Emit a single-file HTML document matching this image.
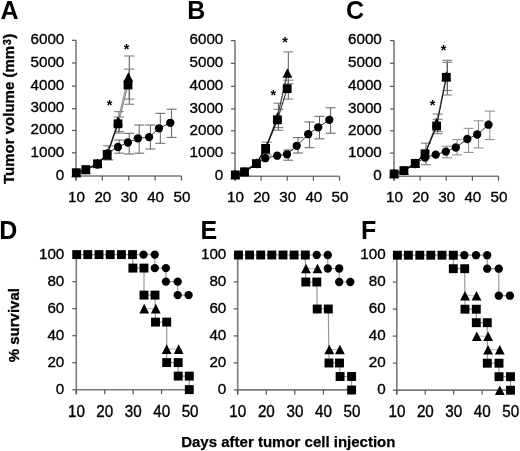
<!DOCTYPE html><html><head><meta charset="utf-8"><style>html,body{margin:0;padding:0;background:#fff;}svg{display:block;will-change:transform;}</style></head><body><svg width="520" height="451" viewBox="0 0 520 451" font-family='"Liberation Sans", sans-serif'>
<rect width="520" height="451" fill="#fff"/>
<text x="0.60" y="19.00" font-size="25" text-anchor="start" font-weight="bold" >A</text>
<text x="187.20" y="19.00" font-size="25" text-anchor="start" font-weight="bold" >B</text>
<text x="346.00" y="19.00" font-size="25" text-anchor="start" font-weight="bold" >C</text>
<text x="-0.80" y="239.20" font-size="25" text-anchor="start" font-weight="bold" >D</text>
<text x="200.50" y="238.90" font-size="25" text-anchor="start" font-weight="bold" >E</text>
<text x="361.00" y="238.90" font-size="25" text-anchor="start" font-weight="bold" >F</text>
<text transform="translate(14.1,184) rotate(-90)" font-size="15" font-weight="bold" stroke="#000" stroke-width="0.3">Tumor volume <tspan dx="0">(mm</tspan><tspan dx="1.0" dy="-3.6" font-size="10.5">3</tspan><tspan dx="0.3" dy="3.6">)</tspan></text>
<text transform="translate(18.9,362.3) rotate(-90)" font-size="15" font-weight="bold" stroke="#000" stroke-width="0.3">% survival</text>
<text x="181.20" y="446.60" stroke="#000" stroke-width="0.25" font-size="15" text-anchor="start" font-weight="bold" >Days after tumor cell injection</text>
<line x1="76.00" y1="40.30" x2="76.00" y2="180.50" stroke="#7a7a7a" stroke-width="1.6"/><line x1="76.00" y1="176.00" x2="181.50" y2="176.00" stroke="#7a7a7a" stroke-width="1.6"/><line x1="72.00" y1="176.00" x2="76.00" y2="176.00" stroke="#555" stroke-width="1.2"/><text x="64.30" y="179.70" stroke="#000" stroke-width="0.35" font-size="15.2" text-anchor="end" font-weight="normal" >0</text><line x1="72.00" y1="152.80" x2="76.00" y2="152.80" stroke="#555" stroke-width="1.2"/><text x="64.30" y="156.50" stroke="#000" stroke-width="0.35" font-size="15.2" text-anchor="end" font-weight="normal" >1000</text><line x1="72.00" y1="130.50" x2="76.00" y2="130.50" stroke="#555" stroke-width="1.2"/><text x="64.30" y="134.20" stroke="#000" stroke-width="0.35" font-size="15.2" text-anchor="end" font-weight="normal" >2000</text><line x1="72.00" y1="108.70" x2="76.00" y2="108.70" stroke="#555" stroke-width="1.2"/><text x="64.30" y="112.40" stroke="#000" stroke-width="0.35" font-size="15.2" text-anchor="end" font-weight="normal" >3000</text><line x1="72.00" y1="86.10" x2="76.00" y2="86.10" stroke="#555" stroke-width="1.2"/><text x="64.30" y="89.80" stroke="#000" stroke-width="0.35" font-size="15.2" text-anchor="end" font-weight="normal" >4000</text><line x1="72.00" y1="63.00" x2="76.00" y2="63.00" stroke="#555" stroke-width="1.2"/><text x="64.30" y="66.70" stroke="#000" stroke-width="0.35" font-size="15.2" text-anchor="end" font-weight="normal" >5000</text><line x1="72.00" y1="40.30" x2="76.00" y2="40.30" stroke="#555" stroke-width="1.2"/><text x="64.30" y="44.00" stroke="#000" stroke-width="0.35" font-size="15.2" text-anchor="end" font-weight="normal" >6000</text><line x1="76.00" y1="176.00" x2="76.00" y2="180.50" stroke="#555" stroke-width="1.2"/><text x="76.50" y="202.30" stroke="#000" stroke-width="0.35" font-size="15.2" text-anchor="middle" font-weight="normal" >10</text><line x1="102.38" y1="176.00" x2="102.38" y2="180.50" stroke="#555" stroke-width="1.2"/><text x="102.88" y="202.30" stroke="#000" stroke-width="0.35" font-size="15.2" text-anchor="middle" font-weight="normal" >20</text><line x1="128.75" y1="176.00" x2="128.75" y2="180.50" stroke="#555" stroke-width="1.2"/><text x="129.25" y="202.30" stroke="#000" stroke-width="0.35" font-size="15.2" text-anchor="middle" font-weight="normal" >30</text><line x1="155.12" y1="176.00" x2="155.12" y2="180.50" stroke="#555" stroke-width="1.2"/><text x="155.62" y="202.30" stroke="#000" stroke-width="0.35" font-size="15.2" text-anchor="middle" font-weight="normal" >40</text><line x1="181.50" y1="176.00" x2="181.50" y2="180.50" stroke="#555" stroke-width="1.2"/><text x="182.00" y="202.30" stroke="#000" stroke-width="0.35" font-size="15.2" text-anchor="middle" font-weight="normal" >50</text>
<line x1="235.00" y1="40.60" x2="235.00" y2="180.80" stroke="#7a7a7a" stroke-width="1.6"/><line x1="235.00" y1="176.30" x2="339.50" y2="176.30" stroke="#7a7a7a" stroke-width="1.6"/><line x1="231.00" y1="176.30" x2="235.00" y2="176.30" stroke="#555" stroke-width="1.2"/><text x="223.30" y="180.00" stroke="#000" stroke-width="0.35" font-size="15.2" text-anchor="end" font-weight="normal" >0</text><line x1="231.00" y1="153.10" x2="235.00" y2="153.10" stroke="#555" stroke-width="1.2"/><text x="223.30" y="156.80" stroke="#000" stroke-width="0.35" font-size="15.2" text-anchor="end" font-weight="normal" >1000</text><line x1="231.00" y1="130.80" x2="235.00" y2="130.80" stroke="#555" stroke-width="1.2"/><text x="223.30" y="134.50" stroke="#000" stroke-width="0.35" font-size="15.2" text-anchor="end" font-weight="normal" >2000</text><line x1="231.00" y1="109.00" x2="235.00" y2="109.00" stroke="#555" stroke-width="1.2"/><text x="223.30" y="112.70" stroke="#000" stroke-width="0.35" font-size="15.2" text-anchor="end" font-weight="normal" >3000</text><line x1="231.00" y1="86.40" x2="235.00" y2="86.40" stroke="#555" stroke-width="1.2"/><text x="223.30" y="90.10" stroke="#000" stroke-width="0.35" font-size="15.2" text-anchor="end" font-weight="normal" >4000</text><line x1="231.00" y1="63.30" x2="235.00" y2="63.30" stroke="#555" stroke-width="1.2"/><text x="223.30" y="67.00" stroke="#000" stroke-width="0.35" font-size="15.2" text-anchor="end" font-weight="normal" >5000</text><line x1="231.00" y1="40.60" x2="235.00" y2="40.60" stroke="#555" stroke-width="1.2"/><text x="223.30" y="44.30" stroke="#000" stroke-width="0.35" font-size="15.2" text-anchor="end" font-weight="normal" >6000</text><line x1="235.00" y1="176.30" x2="235.00" y2="180.80" stroke="#555" stroke-width="1.2"/><text x="235.50" y="202.30" stroke="#000" stroke-width="0.35" font-size="15.2" text-anchor="middle" font-weight="normal" >10</text><line x1="261.12" y1="176.30" x2="261.12" y2="180.80" stroke="#555" stroke-width="1.2"/><text x="261.62" y="202.30" stroke="#000" stroke-width="0.35" font-size="15.2" text-anchor="middle" font-weight="normal" >20</text><line x1="287.25" y1="176.30" x2="287.25" y2="180.80" stroke="#555" stroke-width="1.2"/><text x="287.75" y="202.30" stroke="#000" stroke-width="0.35" font-size="15.2" text-anchor="middle" font-weight="normal" >30</text><line x1="313.38" y1="176.30" x2="313.38" y2="180.80" stroke="#555" stroke-width="1.2"/><text x="313.88" y="202.30" stroke="#000" stroke-width="0.35" font-size="15.2" text-anchor="middle" font-weight="normal" >40</text><line x1="339.50" y1="176.30" x2="339.50" y2="180.80" stroke="#555" stroke-width="1.2"/><text x="340.00" y="202.30" stroke="#000" stroke-width="0.35" font-size="15.2" text-anchor="middle" font-weight="normal" >50</text>
<line x1="394.00" y1="40.60" x2="394.00" y2="180.80" stroke="#7a7a7a" stroke-width="1.6"/><line x1="394.00" y1="176.30" x2="498.50" y2="176.30" stroke="#7a7a7a" stroke-width="1.6"/><line x1="390.00" y1="176.30" x2="394.00" y2="176.30" stroke="#555" stroke-width="1.2"/><text x="381.80" y="180.00" stroke="#000" stroke-width="0.35" font-size="15.2" text-anchor="end" font-weight="normal" >0</text><line x1="390.00" y1="153.10" x2="394.00" y2="153.10" stroke="#555" stroke-width="1.2"/><text x="381.80" y="156.80" stroke="#000" stroke-width="0.35" font-size="15.2" text-anchor="end" font-weight="normal" >1000</text><line x1="390.00" y1="130.80" x2="394.00" y2="130.80" stroke="#555" stroke-width="1.2"/><text x="381.80" y="134.50" stroke="#000" stroke-width="0.35" font-size="15.2" text-anchor="end" font-weight="normal" >2000</text><line x1="390.00" y1="109.00" x2="394.00" y2="109.00" stroke="#555" stroke-width="1.2"/><text x="381.80" y="112.70" stroke="#000" stroke-width="0.35" font-size="15.2" text-anchor="end" font-weight="normal" >3000</text><line x1="390.00" y1="86.40" x2="394.00" y2="86.40" stroke="#555" stroke-width="1.2"/><text x="381.80" y="90.10" stroke="#000" stroke-width="0.35" font-size="15.2" text-anchor="end" font-weight="normal" >4000</text><line x1="390.00" y1="63.30" x2="394.00" y2="63.30" stroke="#555" stroke-width="1.2"/><text x="381.80" y="67.00" stroke="#000" stroke-width="0.35" font-size="15.2" text-anchor="end" font-weight="normal" >5000</text><line x1="390.00" y1="40.60" x2="394.00" y2="40.60" stroke="#555" stroke-width="1.2"/><text x="381.80" y="44.30" stroke="#000" stroke-width="0.35" font-size="15.2" text-anchor="end" font-weight="normal" >6000</text><line x1="394.00" y1="176.30" x2="394.00" y2="180.80" stroke="#555" stroke-width="1.2"/><text x="394.50" y="202.30" stroke="#000" stroke-width="0.35" font-size="15.2" text-anchor="middle" font-weight="normal" >10</text><line x1="420.12" y1="176.30" x2="420.12" y2="180.80" stroke="#555" stroke-width="1.2"/><text x="420.62" y="202.30" stroke="#000" stroke-width="0.35" font-size="15.2" text-anchor="middle" font-weight="normal" >20</text><line x1="446.25" y1="176.30" x2="446.25" y2="180.80" stroke="#555" stroke-width="1.2"/><text x="446.75" y="202.30" stroke="#000" stroke-width="0.35" font-size="15.2" text-anchor="middle" font-weight="normal" >30</text><line x1="472.38" y1="176.30" x2="472.38" y2="180.80" stroke="#555" stroke-width="1.2"/><text x="472.88" y="202.30" stroke="#000" stroke-width="0.35" font-size="15.2" text-anchor="middle" font-weight="normal" >40</text><line x1="498.50" y1="176.30" x2="498.50" y2="180.80" stroke="#555" stroke-width="1.2"/><text x="499.00" y="202.30" stroke="#000" stroke-width="0.35" font-size="15.2" text-anchor="middle" font-weight="normal" >50</text>
<line x1="76.30" y1="254.70" x2="76.30" y2="394.20" stroke="#7a7a7a" stroke-width="1.6"/><line x1="76.30" y1="389.70" x2="190.00" y2="389.70" stroke="#7a7a7a" stroke-width="1.6"/><line x1="72.30" y1="389.70" x2="76.30" y2="389.70" stroke="#555" stroke-width="1.2"/><text x="64.30" y="394.00" stroke="#000" stroke-width="0.35" font-size="15.2" text-anchor="end" font-weight="normal" >0</text><line x1="72.30" y1="362.70" x2="76.30" y2="362.70" stroke="#555" stroke-width="1.2"/><text x="64.30" y="367.00" stroke="#000" stroke-width="0.35" font-size="15.2" text-anchor="end" font-weight="normal" >20</text><line x1="72.30" y1="335.70" x2="76.30" y2="335.70" stroke="#555" stroke-width="1.2"/><text x="64.30" y="340.00" stroke="#000" stroke-width="0.35" font-size="15.2" text-anchor="end" font-weight="normal" >40</text><line x1="72.30" y1="308.70" x2="76.30" y2="308.70" stroke="#555" stroke-width="1.2"/><text x="64.30" y="313.00" stroke="#000" stroke-width="0.35" font-size="15.2" text-anchor="end" font-weight="normal" >60</text><line x1="72.30" y1="281.70" x2="76.30" y2="281.70" stroke="#555" stroke-width="1.2"/><text x="64.30" y="286.00" stroke="#000" stroke-width="0.35" font-size="15.2" text-anchor="end" font-weight="normal" >80</text><line x1="72.30" y1="254.70" x2="76.30" y2="254.70" stroke="#555" stroke-width="1.2"/><text x="64.30" y="259.00" stroke="#000" stroke-width="0.35" font-size="15.2" text-anchor="end" font-weight="normal" >100</text><line x1="76.30" y1="389.70" x2="76.30" y2="394.20" stroke="#555" stroke-width="1.2"/><text transform="translate(76.40,416.60) scale(1,1.07)" stroke="#000" stroke-width="0.35" font-size="15.2" text-anchor="middle" font-weight="normal" >10</text><line x1="104.72" y1="389.70" x2="104.72" y2="394.20" stroke="#555" stroke-width="1.2"/><text transform="translate(104.82,416.60) scale(1,1.07)" stroke="#000" stroke-width="0.35" font-size="15.2" text-anchor="middle" font-weight="normal" >20</text><line x1="133.15" y1="389.70" x2="133.15" y2="394.20" stroke="#555" stroke-width="1.2"/><text transform="translate(133.25,416.60) scale(1,1.07)" stroke="#000" stroke-width="0.35" font-size="15.2" text-anchor="middle" font-weight="normal" >30</text><line x1="161.57" y1="389.70" x2="161.57" y2="394.20" stroke="#555" stroke-width="1.2"/><text transform="translate(161.67,416.60) scale(1,1.07)" stroke="#000" stroke-width="0.35" font-size="15.2" text-anchor="middle" font-weight="normal" >40</text><line x1="190.00" y1="389.70" x2="190.00" y2="394.20" stroke="#555" stroke-width="1.2"/><text transform="translate(190.10,416.60) scale(1,1.07)" stroke="#000" stroke-width="0.35" font-size="15.2" text-anchor="middle" font-weight="normal" >50</text>
<line x1="237.70" y1="254.90" x2="237.70" y2="394.40" stroke="#7a7a7a" stroke-width="1.6"/><line x1="237.70" y1="389.90" x2="351.90" y2="389.90" stroke="#7a7a7a" stroke-width="1.6"/><line x1="233.70" y1="389.90" x2="237.70" y2="389.90" stroke="#555" stroke-width="1.2"/><text x="226.30" y="394.20" stroke="#000" stroke-width="0.35" font-size="15.2" text-anchor="end" font-weight="normal" >0</text><line x1="233.70" y1="362.90" x2="237.70" y2="362.90" stroke="#555" stroke-width="1.2"/><text x="226.30" y="367.20" stroke="#000" stroke-width="0.35" font-size="15.2" text-anchor="end" font-weight="normal" >20</text><line x1="233.70" y1="335.90" x2="237.70" y2="335.90" stroke="#555" stroke-width="1.2"/><text x="226.30" y="340.20" stroke="#000" stroke-width="0.35" font-size="15.2" text-anchor="end" font-weight="normal" >40</text><line x1="233.70" y1="308.90" x2="237.70" y2="308.90" stroke="#555" stroke-width="1.2"/><text x="226.30" y="313.20" stroke="#000" stroke-width="0.35" font-size="15.2" text-anchor="end" font-weight="normal" >60</text><line x1="233.70" y1="281.90" x2="237.70" y2="281.90" stroke="#555" stroke-width="1.2"/><text x="226.30" y="286.20" stroke="#000" stroke-width="0.35" font-size="15.2" text-anchor="end" font-weight="normal" >80</text><line x1="233.70" y1="254.90" x2="237.70" y2="254.90" stroke="#555" stroke-width="1.2"/><text x="226.30" y="259.20" stroke="#000" stroke-width="0.35" font-size="15.2" text-anchor="end" font-weight="normal" >100</text><line x1="237.70" y1="389.90" x2="237.70" y2="394.40" stroke="#555" stroke-width="1.2"/><text transform="translate(237.80,416.60) scale(1,1.07)" stroke="#000" stroke-width="0.35" font-size="15.2" text-anchor="middle" font-weight="normal" >10</text><line x1="266.25" y1="389.90" x2="266.25" y2="394.40" stroke="#555" stroke-width="1.2"/><text transform="translate(266.35,416.60) scale(1,1.07)" stroke="#000" stroke-width="0.35" font-size="15.2" text-anchor="middle" font-weight="normal" >20</text><line x1="294.80" y1="389.90" x2="294.80" y2="394.40" stroke="#555" stroke-width="1.2"/><text transform="translate(294.90,416.60) scale(1,1.07)" stroke="#000" stroke-width="0.35" font-size="15.2" text-anchor="middle" font-weight="normal" >30</text><line x1="323.35" y1="389.90" x2="323.35" y2="394.40" stroke="#555" stroke-width="1.2"/><text transform="translate(323.45,416.60) scale(1,1.07)" stroke="#000" stroke-width="0.35" font-size="15.2" text-anchor="middle" font-weight="normal" >40</text><line x1="351.90" y1="389.90" x2="351.90" y2="394.40" stroke="#555" stroke-width="1.2"/><text transform="translate(352.00,416.60) scale(1,1.07)" stroke="#000" stroke-width="0.35" font-size="15.2" text-anchor="middle" font-weight="normal" >50</text>
<line x1="396.80" y1="255.10" x2="396.80" y2="394.60" stroke="#7a7a7a" stroke-width="1.6"/><line x1="396.80" y1="390.10" x2="510.60" y2="390.10" stroke="#7a7a7a" stroke-width="1.6"/><line x1="392.80" y1="390.10" x2="396.80" y2="390.10" stroke="#555" stroke-width="1.2"/><text x="385.60" y="394.40" stroke="#000" stroke-width="0.35" font-size="15.2" text-anchor="end" font-weight="normal" >0</text><line x1="392.80" y1="363.10" x2="396.80" y2="363.10" stroke="#555" stroke-width="1.2"/><text x="385.60" y="367.40" stroke="#000" stroke-width="0.35" font-size="15.2" text-anchor="end" font-weight="normal" >20</text><line x1="392.80" y1="336.10" x2="396.80" y2="336.10" stroke="#555" stroke-width="1.2"/><text x="385.60" y="340.40" stroke="#000" stroke-width="0.35" font-size="15.2" text-anchor="end" font-weight="normal" >40</text><line x1="392.80" y1="309.10" x2="396.80" y2="309.10" stroke="#555" stroke-width="1.2"/><text x="385.60" y="313.40" stroke="#000" stroke-width="0.35" font-size="15.2" text-anchor="end" font-weight="normal" >60</text><line x1="392.80" y1="282.10" x2="396.80" y2="282.10" stroke="#555" stroke-width="1.2"/><text x="385.60" y="286.40" stroke="#000" stroke-width="0.35" font-size="15.2" text-anchor="end" font-weight="normal" >80</text><line x1="392.80" y1="255.10" x2="396.80" y2="255.10" stroke="#555" stroke-width="1.2"/><text x="385.60" y="259.40" stroke="#000" stroke-width="0.35" font-size="15.2" text-anchor="end" font-weight="normal" >100</text><line x1="396.80" y1="390.10" x2="396.80" y2="394.60" stroke="#555" stroke-width="1.2"/><text transform="translate(396.90,416.60) scale(1,1.07)" stroke="#000" stroke-width="0.35" font-size="15.2" text-anchor="middle" font-weight="normal" >10</text><line x1="425.25" y1="390.10" x2="425.25" y2="394.60" stroke="#555" stroke-width="1.2"/><text transform="translate(425.35,416.60) scale(1,1.07)" stroke="#000" stroke-width="0.35" font-size="15.2" text-anchor="middle" font-weight="normal" >20</text><line x1="453.70" y1="390.10" x2="453.70" y2="394.60" stroke="#555" stroke-width="1.2"/><text transform="translate(453.80,416.60) scale(1,1.07)" stroke="#000" stroke-width="0.35" font-size="15.2" text-anchor="middle" font-weight="normal" >30</text><line x1="482.15" y1="390.10" x2="482.15" y2="394.60" stroke="#555" stroke-width="1.2"/><text transform="translate(482.25,416.60) scale(1,1.07)" stroke="#000" stroke-width="0.35" font-size="15.2" text-anchor="middle" font-weight="normal" >40</text><line x1="510.60" y1="390.10" x2="510.60" y2="394.60" stroke="#555" stroke-width="1.2"/><text transform="translate(510.70,416.60) scale(1,1.07)" stroke="#000" stroke-width="0.35" font-size="15.2" text-anchor="middle" font-weight="normal" >50</text>
<line x1="108.20" y1="145.80" x2="108.20" y2="160.00" stroke="#555" stroke-width="1"/><line x1="103.20" y1="145.80" x2="113.20" y2="145.80" stroke="#888" stroke-width="1.2"/><line x1="103.20" y1="160.00" x2="113.20" y2="160.00" stroke="#888" stroke-width="1.2"/><line x1="119.00" y1="111.60" x2="119.00" y2="131.50" stroke="#555" stroke-width="1"/><line x1="114.00" y1="111.60" x2="124.00" y2="111.60" stroke="#888" stroke-width="1.2"/><line x1="114.00" y1="131.50" x2="124.00" y2="131.50" stroke="#888" stroke-width="1.2"/><line x1="119.00" y1="117.10" x2="119.00" y2="133.20" stroke="#555" stroke-width="1"/><line x1="114.00" y1="117.10" x2="124.00" y2="117.10" stroke="#888" stroke-width="1.2"/><line x1="114.00" y1="133.20" x2="124.00" y2="133.20" stroke="#888" stroke-width="1.2"/><line x1="129.30" y1="56.00" x2="129.30" y2="99.10" stroke="#555" stroke-width="1"/><line x1="124.30" y1="56.00" x2="134.30" y2="56.00" stroke="#888" stroke-width="1.2"/><line x1="124.30" y1="99.10" x2="134.30" y2="99.10" stroke="#888" stroke-width="1.2"/><line x1="129.30" y1="69.10" x2="129.30" y2="104.30" stroke="#555" stroke-width="1"/><line x1="124.30" y1="69.10" x2="134.30" y2="69.10" stroke="#888" stroke-width="1.2"/><line x1="124.30" y1="104.30" x2="134.30" y2="104.30" stroke="#888" stroke-width="1.2"/><line x1="119.20" y1="140.00" x2="119.20" y2="153.20" stroke="#606060" stroke-width="1"/><line x1="114.20" y1="140.00" x2="124.20" y2="140.00" stroke="#606060" stroke-width="1"/><line x1="114.20" y1="153.20" x2="124.20" y2="153.20" stroke="#606060" stroke-width="1"/><line x1="129.20" y1="133.30" x2="129.20" y2="154.00" stroke="#606060" stroke-width="1"/><line x1="124.20" y1="133.30" x2="134.20" y2="133.30" stroke="#606060" stroke-width="1"/><line x1="124.20" y1="154.00" x2="134.20" y2="154.00" stroke="#606060" stroke-width="1"/><line x1="139.20" y1="125.00" x2="139.20" y2="153.20" stroke="#606060" stroke-width="1"/><line x1="134.20" y1="125.00" x2="144.20" y2="125.00" stroke="#606060" stroke-width="1"/><line x1="134.20" y1="153.20" x2="144.20" y2="153.20" stroke="#606060" stroke-width="1"/><line x1="150.40" y1="125.00" x2="150.40" y2="149.00" stroke="#606060" stroke-width="1"/><line x1="145.40" y1="125.00" x2="155.40" y2="125.00" stroke="#606060" stroke-width="1"/><line x1="145.40" y1="149.00" x2="155.40" y2="149.00" stroke="#606060" stroke-width="1"/><line x1="160.30" y1="113.30" x2="160.30" y2="143.30" stroke="#606060" stroke-width="1"/><line x1="155.30" y1="113.30" x2="165.30" y2="113.30" stroke="#606060" stroke-width="1"/><line x1="155.30" y1="143.30" x2="165.30" y2="143.30" stroke="#606060" stroke-width="1"/><line x1="171.60" y1="109.20" x2="171.60" y2="137.40" stroke="#606060" stroke-width="1"/><line x1="166.60" y1="109.20" x2="176.60" y2="109.20" stroke="#606060" stroke-width="1"/><line x1="166.60" y1="137.40" x2="176.60" y2="137.40" stroke="#606060" stroke-width="1"/><polyline points="76.30,173.00 85.80,170.00 97.50,164.50 107.20,153.50 117.90,147.00 127.90,142.50 137.90,138.30 149.10,137.10 159.00,128.30 170.30,122.80" fill="none" stroke="#333" stroke-width="1.0"/><polyline points="76.30,172.50 85.80,169.50 97.50,163.00 107.20,155.00 118.00,121.00 128.30,77.00" fill="none" stroke="#999" stroke-width="1.2"/><polyline points="76.30,172.70 85.80,169.60 97.50,163.80 107.20,154.40 118.00,123.80" fill="none" stroke="#111" stroke-width="1.3"/><polyline points="118.00,123.80 128.00,85.00" fill="none" stroke="#888" stroke-width="1.1"/><circle cx="76.30" cy="173.00" r="4.15" fill="#000"/><circle cx="85.80" cy="170.00" r="4.15" fill="#000"/><circle cx="97.50" cy="164.50" r="4.15" fill="#000"/><circle cx="107.20" cy="153.50" r="4.15" fill="#000"/><circle cx="117.90" cy="147.00" r="4.15" fill="#000"/><circle cx="127.90" cy="142.50" r="4.15" fill="#000"/><circle cx="137.90" cy="138.30" r="4.15" fill="#000"/><circle cx="149.10" cy="137.10" r="4.15" fill="#000"/><circle cx="159.00" cy="128.30" r="4.15" fill="#000"/><circle cx="170.30" cy="122.80" r="4.15" fill="#000"/><path d="M76.30 167.70L81.20 177.30L71.40 177.30Z" fill="#000"/><path d="M85.80 164.70L90.70 174.30L80.90 174.30Z" fill="#000"/><path d="M97.50 158.20L102.40 167.80L92.60 167.80Z" fill="#000"/><path d="M107.20 150.20L112.10 159.80L102.30 159.80Z" fill="#000"/><path d="M118.00 116.20L122.90 125.80L113.10 125.80Z" fill="#000"/><path d="M128.30 72.20L133.20 81.80L123.40 81.80Z" fill="#000"/><rect x="71.90" y="168.30" width="8.8" height="8.8" fill="#000"/><rect x="81.40" y="165.20" width="8.8" height="8.8" fill="#000"/><rect x="93.10" y="159.40" width="8.8" height="8.8" fill="#000"/><rect x="102.80" y="150.00" width="8.8" height="8.8" fill="#000"/><rect x="113.60" y="119.40" width="8.8" height="8.8" fill="#000"/><rect x="123.60" y="80.60" width="8.8" height="8.8" fill="#000"/><text x="126.60" y="53.90" font-size="14.5" font-weight="bold" text-anchor="middle">*</text><text x="109.70" y="110.10" font-size="14.5" font-weight="bold" text-anchor="middle">*</text>
<line x1="266.60" y1="142.20" x2="266.60" y2="155.00" stroke="#555" stroke-width="1"/><line x1="261.60" y1="142.20" x2="271.60" y2="142.20" stroke="#888" stroke-width="1.2"/><line x1="261.60" y1="155.00" x2="271.60" y2="155.00" stroke="#888" stroke-width="1.2"/><line x1="278.40" y1="103.20" x2="278.40" y2="127.60" stroke="#555" stroke-width="1"/><line x1="273.40" y1="103.20" x2="283.40" y2="103.20" stroke="#888" stroke-width="1.2"/><line x1="273.40" y1="127.60" x2="283.40" y2="127.60" stroke="#888" stroke-width="1.2"/><line x1="278.40" y1="109.30" x2="278.40" y2="130.30" stroke="#555" stroke-width="1"/><line x1="273.40" y1="109.30" x2="283.40" y2="109.30" stroke="#888" stroke-width="1.2"/><line x1="273.40" y1="130.30" x2="283.40" y2="130.30" stroke="#888" stroke-width="1.2"/><line x1="288.30" y1="51.90" x2="288.30" y2="83.70" stroke="#555" stroke-width="1"/><line x1="283.30" y1="51.90" x2="293.30" y2="51.90" stroke="#888" stroke-width="1.2"/><line x1="283.30" y1="83.70" x2="293.30" y2="83.70" stroke="#888" stroke-width="1.2"/><line x1="288.30" y1="80.20" x2="288.30" y2="99.10" stroke="#555" stroke-width="1"/><line x1="283.30" y1="80.20" x2="293.30" y2="80.20" stroke="#888" stroke-width="1.2"/><line x1="283.30" y1="99.10" x2="293.30" y2="99.10" stroke="#888" stroke-width="1.2"/><line x1="288.30" y1="150.00" x2="288.30" y2="160.20" stroke="#606060" stroke-width="1"/><line x1="283.30" y1="150.00" x2="293.30" y2="150.00" stroke="#606060" stroke-width="1"/><line x1="283.30" y1="160.20" x2="293.30" y2="160.20" stroke="#606060" stroke-width="1"/><line x1="298.00" y1="137.60" x2="298.00" y2="153.00" stroke="#606060" stroke-width="1"/><line x1="293.00" y1="137.60" x2="303.00" y2="137.60" stroke="#606060" stroke-width="1"/><line x1="293.00" y1="153.00" x2="303.00" y2="153.00" stroke="#606060" stroke-width="1"/><line x1="309.50" y1="122.00" x2="309.50" y2="147.70" stroke="#606060" stroke-width="1"/><line x1="304.50" y1="122.00" x2="314.50" y2="122.00" stroke="#606060" stroke-width="1"/><line x1="304.50" y1="147.70" x2="314.50" y2="147.70" stroke="#606060" stroke-width="1"/><line x1="319.50" y1="116.30" x2="319.50" y2="138.80" stroke="#606060" stroke-width="1"/><line x1="314.50" y1="116.30" x2="324.50" y2="116.30" stroke="#606060" stroke-width="1"/><line x1="314.50" y1="138.80" x2="324.50" y2="138.80" stroke="#606060" stroke-width="1"/><line x1="330.60" y1="107.80" x2="330.60" y2="133.20" stroke="#606060" stroke-width="1"/><line x1="325.60" y1="107.80" x2="335.60" y2="107.80" stroke="#606060" stroke-width="1"/><line x1="325.60" y1="133.20" x2="335.60" y2="133.20" stroke="#606060" stroke-width="1"/><polyline points="235.30,175.00 244.50,172.00 256.40,164.00 265.30,158.20 277.20,155.70 287.00,154.30 296.70,145.80 308.20,134.20 318.20,127.30 329.30,119.80" fill="none" stroke="#333" stroke-width="1.0"/><polyline points="235.30,174.50 244.50,171.50 256.40,163.00 265.60,149.00 277.40,117.00 287.40,73.00" fill="none" stroke="#444" stroke-width="1.2"/><polyline points="235.30,174.90 244.50,171.80 256.40,163.60 265.60,148.40 277.40,119.80" fill="none" stroke="#111" stroke-width="1.3"/><polyline points="277.40,119.80 287.20,88.70" fill="none" stroke="#333" stroke-width="1.1"/><circle cx="235.30" cy="175.00" r="4.15" fill="#000"/><circle cx="244.50" cy="172.00" r="4.15" fill="#000"/><circle cx="256.40" cy="164.00" r="4.15" fill="#000"/><circle cx="265.30" cy="158.20" r="4.15" fill="#000"/><circle cx="277.20" cy="155.70" r="4.15" fill="#000"/><circle cx="287.00" cy="154.30" r="4.15" fill="#000"/><circle cx="296.70" cy="145.80" r="4.15" fill="#000"/><circle cx="308.20" cy="134.20" r="4.15" fill="#000"/><circle cx="318.20" cy="127.30" r="4.15" fill="#000"/><circle cx="329.30" cy="119.80" r="4.15" fill="#000"/><path d="M235.30 169.70L240.20 179.30L230.40 179.30Z" fill="#000"/><path d="M244.50 166.70L249.40 176.30L239.60 176.30Z" fill="#000"/><path d="M256.40 158.20L261.30 167.80L251.50 167.80Z" fill="#000"/><path d="M265.60 144.20L270.50 153.80L260.70 153.80Z" fill="#000"/><path d="M277.40 112.20L282.30 121.80L272.50 121.80Z" fill="#000"/><path d="M287.40 68.20L292.30 77.80L282.50 77.80Z" fill="#000"/><rect x="230.90" y="170.50" width="8.8" height="8.8" fill="#000"/><rect x="240.10" y="167.40" width="8.8" height="8.8" fill="#000"/><rect x="252.00" y="159.20" width="8.8" height="8.8" fill="#000"/><rect x="261.20" y="144.00" width="8.8" height="8.8" fill="#000"/><rect x="273.00" y="115.40" width="8.8" height="8.8" fill="#000"/><rect x="282.80" y="84.30" width="8.8" height="8.8" fill="#000"/><text x="285.20" y="46.90" font-size="14.5" font-weight="bold" text-anchor="middle">*</text><text x="273.30" y="100.40" font-size="14.5" font-weight="bold" text-anchor="middle">*</text>
<line x1="426.00" y1="143.20" x2="426.00" y2="164.80" stroke="#555" stroke-width="1"/><line x1="421.00" y1="143.20" x2="431.00" y2="143.20" stroke="#888" stroke-width="1.2"/><line x1="421.00" y1="164.80" x2="431.00" y2="164.80" stroke="#888" stroke-width="1.2"/><line x1="437.60" y1="114.00" x2="437.60" y2="131.50" stroke="#555" stroke-width="1"/><line x1="432.60" y1="114.00" x2="442.60" y2="114.00" stroke="#888" stroke-width="1.2"/><line x1="432.60" y1="131.50" x2="442.60" y2="131.50" stroke="#888" stroke-width="1.2"/><line x1="437.60" y1="119.30" x2="437.60" y2="133.70" stroke="#555" stroke-width="1"/><line x1="432.60" y1="119.30" x2="442.60" y2="119.30" stroke="#888" stroke-width="1.2"/><line x1="432.60" y1="133.70" x2="442.60" y2="133.70" stroke="#888" stroke-width="1.2"/><line x1="447.30" y1="60.30" x2="447.30" y2="90.50" stroke="#555" stroke-width="1"/><line x1="442.30" y1="60.30" x2="452.30" y2="60.30" stroke="#888" stroke-width="1.2"/><line x1="442.30" y1="90.50" x2="452.30" y2="90.50" stroke="#888" stroke-width="1.2"/><line x1="447.30" y1="62.30" x2="447.30" y2="95.00" stroke="#555" stroke-width="1"/><line x1="442.30" y1="62.30" x2="452.30" y2="62.30" stroke="#888" stroke-width="1.2"/><line x1="442.30" y1="95.00" x2="452.30" y2="95.00" stroke="#888" stroke-width="1.2"/><line x1="447.10" y1="146.20" x2="447.10" y2="157.90" stroke="#8a8a8a" stroke-width="1"/><line x1="442.10" y1="146.20" x2="452.10" y2="146.20" stroke="#8a8a8a" stroke-width="1"/><line x1="442.10" y1="157.90" x2="452.10" y2="157.90" stroke="#8a8a8a" stroke-width="1"/><line x1="457.10" y1="139.60" x2="457.10" y2="154.90" stroke="#8a8a8a" stroke-width="1"/><line x1="452.10" y1="139.60" x2="462.10" y2="139.60" stroke="#8a8a8a" stroke-width="1"/><line x1="452.10" y1="154.90" x2="462.10" y2="154.90" stroke="#8a8a8a" stroke-width="1"/><line x1="468.60" y1="128.30" x2="468.60" y2="152.40" stroke="#8a8a8a" stroke-width="1"/><line x1="463.60" y1="128.30" x2="473.60" y2="128.30" stroke="#8a8a8a" stroke-width="1"/><line x1="463.60" y1="152.40" x2="473.60" y2="152.40" stroke="#8a8a8a" stroke-width="1"/><line x1="478.50" y1="120.80" x2="478.50" y2="147.90" stroke="#8a8a8a" stroke-width="1"/><line x1="473.50" y1="120.80" x2="483.50" y2="120.80" stroke="#8a8a8a" stroke-width="1"/><line x1="473.50" y1="147.90" x2="483.50" y2="147.90" stroke="#8a8a8a" stroke-width="1"/><line x1="489.80" y1="111.10" x2="489.80" y2="139.60" stroke="#8a8a8a" stroke-width="1"/><line x1="484.80" y1="111.10" x2="494.80" y2="111.10" stroke="#8a8a8a" stroke-width="1"/><line x1="484.80" y1="139.60" x2="494.80" y2="139.60" stroke="#8a8a8a" stroke-width="1"/><polyline points="394.10,174.00 403.90,171.00 415.20,164.00 425.00,157.50 435.70,154.60 445.80,151.60 455.80,147.50 467.30,139.00 477.20,134.50 488.50,124.70" fill="none" stroke="#333" stroke-width="1.0"/><polyline points="394.10,173.50 403.90,170.30 415.20,163.00 425.00,154.00 436.60,122.50 446.30,76.00" fill="none" stroke="#999" stroke-width="1.2"/><polyline points="394.10,173.90 403.90,170.60 415.20,163.40 425.00,153.80 436.60,126.00" fill="none" stroke="#111" stroke-width="1.3"/><polyline points="436.60,126.00 446.30,77.30" fill="none" stroke="#111" stroke-width="1.1"/><circle cx="394.10" cy="174.00" r="4.15" fill="#000"/><circle cx="403.90" cy="171.00" r="4.15" fill="#000"/><circle cx="415.20" cy="164.00" r="4.15" fill="#000"/><circle cx="425.00" cy="157.50" r="4.15" fill="#000"/><circle cx="435.70" cy="154.60" r="4.15" fill="#000"/><circle cx="445.80" cy="151.60" r="4.15" fill="#000"/><circle cx="455.80" cy="147.50" r="4.15" fill="#000"/><circle cx="467.30" cy="139.00" r="4.15" fill="#000"/><circle cx="477.20" cy="134.50" r="4.15" fill="#000"/><circle cx="488.50" cy="124.70" r="4.15" fill="#000"/><path d="M394.10 168.70L399.00 178.30L389.20 178.30Z" fill="#000"/><path d="M403.90 165.50L408.80 175.10L399.00 175.10Z" fill="#000"/><path d="M415.20 158.20L420.10 167.80L410.30 167.80Z" fill="#000"/><path d="M425.00 149.20L429.90 158.80L420.10 158.80Z" fill="#000"/><path d="M436.60 117.70L441.50 127.30L431.70 127.30Z" fill="#000"/><path d="M446.30 71.20L451.20 80.80L441.40 80.80Z" fill="#000"/><rect x="389.70" y="169.50" width="8.8" height="8.8" fill="#000"/><rect x="399.50" y="166.20" width="8.8" height="8.8" fill="#000"/><rect x="410.80" y="159.00" width="8.8" height="8.8" fill="#000"/><rect x="420.60" y="149.40" width="8.8" height="8.8" fill="#000"/><rect x="432.20" y="121.60" width="8.8" height="8.8" fill="#000"/><rect x="441.90" y="72.90" width="8.8" height="8.8" fill="#000"/><text x="443.60" y="54.50" font-size="14.5" font-weight="bold" text-anchor="middle">*</text><text x="432.50" y="110.40" font-size="14.5" font-weight="bold" text-anchor="middle">*</text>
<polyline points="132.60,254.60 143.50,254.60 154.80,254.60 154.80,268.10 165.90,268.10 165.90,281.60 177.70,281.60 177.70,295.10 188.60,295.10" fill="none" stroke="#999" stroke-width="1.2"/><polyline points="144.20,308.60 155.80,308.60" fill="none" stroke="#bbb" stroke-width="1.0"/><polyline points="166.70,349.10 178.70,349.10" fill="none" stroke="#bbb" stroke-width="1.0"/><polyline points="76.70,254.60 87.80,254.60 99.00,254.60 110.20,254.60 121.40,254.60 132.60,254.60 132.90,268.10 144.00,268.10 144.00,295.10 155.00,295.10 155.50,322.10 166.70,322.10 166.70,362.60 178.20,362.60 178.20,376.10 189.30,376.10 189.30,389.60" fill="none" stroke="#999" stroke-width="1.2"/><circle cx="132.60" cy="254.60" r="4.15" fill="#000"/><circle cx="143.50" cy="254.60" r="4.15" fill="#000"/><circle cx="154.80" cy="254.60" r="4.15" fill="#000"/><circle cx="154.80" cy="268.10" r="4.15" fill="#000"/><circle cx="165.90" cy="268.10" r="4.15" fill="#000"/><circle cx="165.90" cy="281.60" r="4.15" fill="#000"/><circle cx="177.70" cy="281.60" r="4.15" fill="#000"/><circle cx="177.70" cy="295.10" r="4.15" fill="#000"/><circle cx="188.60" cy="295.10" r="4.15" fill="#000"/><path d="M144.20 303.80L149.10 313.40L139.30 313.40Z" fill="#000"/><path d="M155.80 303.80L160.70 313.40L150.90 313.40Z" fill="#000"/><path d="M166.70 344.30L171.60 353.90L161.80 353.90Z" fill="#000"/><path d="M178.70 344.30L183.60 353.90L173.80 353.90Z" fill="#000"/><rect x="72.25" y="250.15" width="8.9" height="8.9" fill="#000"/><rect x="83.35" y="250.15" width="8.9" height="8.9" fill="#000"/><rect x="94.55" y="250.15" width="8.9" height="8.9" fill="#000"/><rect x="105.75" y="250.15" width="8.9" height="8.9" fill="#000"/><rect x="116.95" y="250.15" width="8.9" height="8.9" fill="#000"/><rect x="128.15" y="250.15" width="8.9" height="8.9" fill="#000"/><rect x="128.45" y="263.65" width="8.9" height="8.9" fill="#000"/><rect x="139.55" y="263.65" width="8.9" height="8.9" fill="#000"/><rect x="139.55" y="290.65" width="8.9" height="8.9" fill="#000"/><rect x="150.55" y="290.65" width="8.9" height="8.9" fill="#000"/><rect x="151.05" y="317.65" width="8.9" height="8.9" fill="#000"/><rect x="162.25" y="317.65" width="8.9" height="8.9" fill="#000"/><rect x="162.25" y="358.15" width="8.9" height="8.9" fill="#000"/><rect x="173.75" y="358.15" width="8.9" height="8.9" fill="#000"/><rect x="173.75" y="371.65" width="8.9" height="8.9" fill="#000"/><rect x="184.85" y="371.65" width="8.9" height="8.9" fill="#000"/><rect x="184.85" y="385.15" width="8.9" height="8.9" fill="#000"/>
<polyline points="305.30,255.00 316.70,255.00 327.80,255.00 327.80,268.50 339.20,268.50 339.20,282.00 350.30,282.00" fill="none" stroke="#999" stroke-width="1.2"/><polyline points="306.00,268.50 317.50,268.50" fill="none" stroke="#bbb" stroke-width="1.0"/><polyline points="329.30,349.50 339.90,349.50" fill="none" stroke="#bbb" stroke-width="1.0"/><polyline points="238.50,255.00 249.60,255.00 260.70,255.00 271.80,255.00 283.00,255.00 294.10,255.00 305.30,255.00 305.80,282.00 316.80,282.00 317.20,309.00 328.30,309.00 329.00,363.00 339.50,363.00 340.10,376.50 351.60,376.50 351.60,390.00" fill="none" stroke="#999" stroke-width="1.2"/><circle cx="305.30" cy="255.00" r="4.15" fill="#000"/><circle cx="316.70" cy="255.00" r="4.15" fill="#000"/><circle cx="327.80" cy="255.00" r="4.15" fill="#000"/><circle cx="327.80" cy="268.50" r="4.15" fill="#000"/><circle cx="339.20" cy="268.50" r="4.15" fill="#000"/><circle cx="339.20" cy="282.00" r="4.15" fill="#000"/><circle cx="350.30" cy="282.00" r="4.15" fill="#000"/><path d="M306.00 263.70L310.90 273.30L301.10 273.30Z" fill="#000"/><path d="M317.50 263.70L322.40 273.30L312.60 273.30Z" fill="#000"/><path d="M329.30 344.70L334.20 354.30L324.40 354.30Z" fill="#000"/><path d="M339.90 344.70L344.80 354.30L335.00 354.30Z" fill="#000"/><rect x="234.05" y="250.55" width="8.9" height="8.9" fill="#000"/><rect x="245.15" y="250.55" width="8.9" height="8.9" fill="#000"/><rect x="256.25" y="250.55" width="8.9" height="8.9" fill="#000"/><rect x="267.35" y="250.55" width="8.9" height="8.9" fill="#000"/><rect x="278.55" y="250.55" width="8.9" height="8.9" fill="#000"/><rect x="289.65" y="250.55" width="8.9" height="8.9" fill="#000"/><rect x="300.85" y="250.55" width="8.9" height="8.9" fill="#000"/><rect x="301.35" y="277.55" width="8.9" height="8.9" fill="#000"/><rect x="312.35" y="277.55" width="8.9" height="8.9" fill="#000"/><rect x="312.75" y="304.55" width="8.9" height="8.9" fill="#000"/><rect x="323.85" y="304.55" width="8.9" height="8.9" fill="#000"/><rect x="324.55" y="358.55" width="8.9" height="8.9" fill="#000"/><rect x="335.05" y="358.55" width="8.9" height="8.9" fill="#000"/><rect x="335.65" y="372.05" width="8.9" height="8.9" fill="#000"/><rect x="347.15" y="372.05" width="8.9" height="8.9" fill="#000"/><rect x="347.15" y="385.55" width="8.9" height="8.9" fill="#000"/>
<polyline points="453.30,255.20 464.30,255.20 476.00,255.20 487.20,255.20 487.20,268.70 498.80,268.70 498.80,295.70 509.90,295.70" fill="none" stroke="#999" stroke-width="1.2"/><polyline points="465.00,295.70 476.50,295.70" fill="none" stroke="#bbb" stroke-width="1.0"/><polyline points="476.80,336.20 488.10,336.20" fill="none" stroke="#bbb" stroke-width="1.0"/><polyline points="488.10,349.70 499.80,349.70" fill="none" stroke="#bbb" stroke-width="1.0"/><polyline points="397.40,255.20 408.40,255.20 419.80,255.20 430.80,255.20 442.00,255.20 453.30,255.20 453.30,268.70 464.70,268.70 465.00,309.20 476.30,309.20 476.30,322.70 487.30,322.70 487.30,363.20 499.00,363.20 499.00,376.70 510.50,376.70 510.50,390.20" fill="none" stroke="#999" stroke-width="1.2"/><circle cx="453.30" cy="255.20" r="4.15" fill="#000"/><circle cx="464.30" cy="255.20" r="4.15" fill="#000"/><circle cx="476.00" cy="255.20" r="4.15" fill="#000"/><circle cx="487.20" cy="255.20" r="4.15" fill="#000"/><circle cx="487.20" cy="268.70" r="4.15" fill="#000"/><circle cx="498.80" cy="268.70" r="4.15" fill="#000"/><circle cx="498.80" cy="295.70" r="4.15" fill="#000"/><circle cx="509.90" cy="295.70" r="4.15" fill="#000"/><path d="M465.00 290.90L469.90 300.50L460.10 300.50Z" fill="#000"/><path d="M476.50 290.90L481.40 300.50L471.60 300.50Z" fill="#000"/><path d="M476.80 331.40L481.70 341.00L471.90 341.00Z" fill="#000"/><path d="M488.10 331.40L493.00 341.00L483.20 341.00Z" fill="#000"/><path d="M488.10 344.90L493.00 354.50L483.20 354.50Z" fill="#000"/><path d="M499.80 344.90L504.70 354.50L494.90 354.50Z" fill="#000"/><path d="M499.80 385.40L504.70 395.00L494.90 395.00Z" fill="#000"/><rect x="392.95" y="250.75" width="8.9" height="8.9" fill="#000"/><rect x="403.95" y="250.75" width="8.9" height="8.9" fill="#000"/><rect x="415.35" y="250.75" width="8.9" height="8.9" fill="#000"/><rect x="426.35" y="250.75" width="8.9" height="8.9" fill="#000"/><rect x="437.55" y="250.75" width="8.9" height="8.9" fill="#000"/><rect x="448.85" y="250.75" width="8.9" height="8.9" fill="#000"/><rect x="448.85" y="264.25" width="8.9" height="8.9" fill="#000"/><rect x="460.25" y="264.25" width="8.9" height="8.9" fill="#000"/><rect x="460.55" y="304.75" width="8.9" height="8.9" fill="#000"/><rect x="471.85" y="304.75" width="8.9" height="8.9" fill="#000"/><rect x="471.85" y="318.25" width="8.9" height="8.9" fill="#000"/><rect x="482.85" y="318.25" width="8.9" height="8.9" fill="#000"/><rect x="482.85" y="358.75" width="8.9" height="8.9" fill="#000"/><rect x="494.55" y="358.75" width="8.9" height="8.9" fill="#000"/><rect x="494.55" y="372.25" width="8.9" height="8.9" fill="#000"/><rect x="506.05" y="372.25" width="8.9" height="8.9" fill="#000"/><rect x="506.05" y="385.75" width="8.9" height="8.9" fill="#000"/></svg></body></html>
